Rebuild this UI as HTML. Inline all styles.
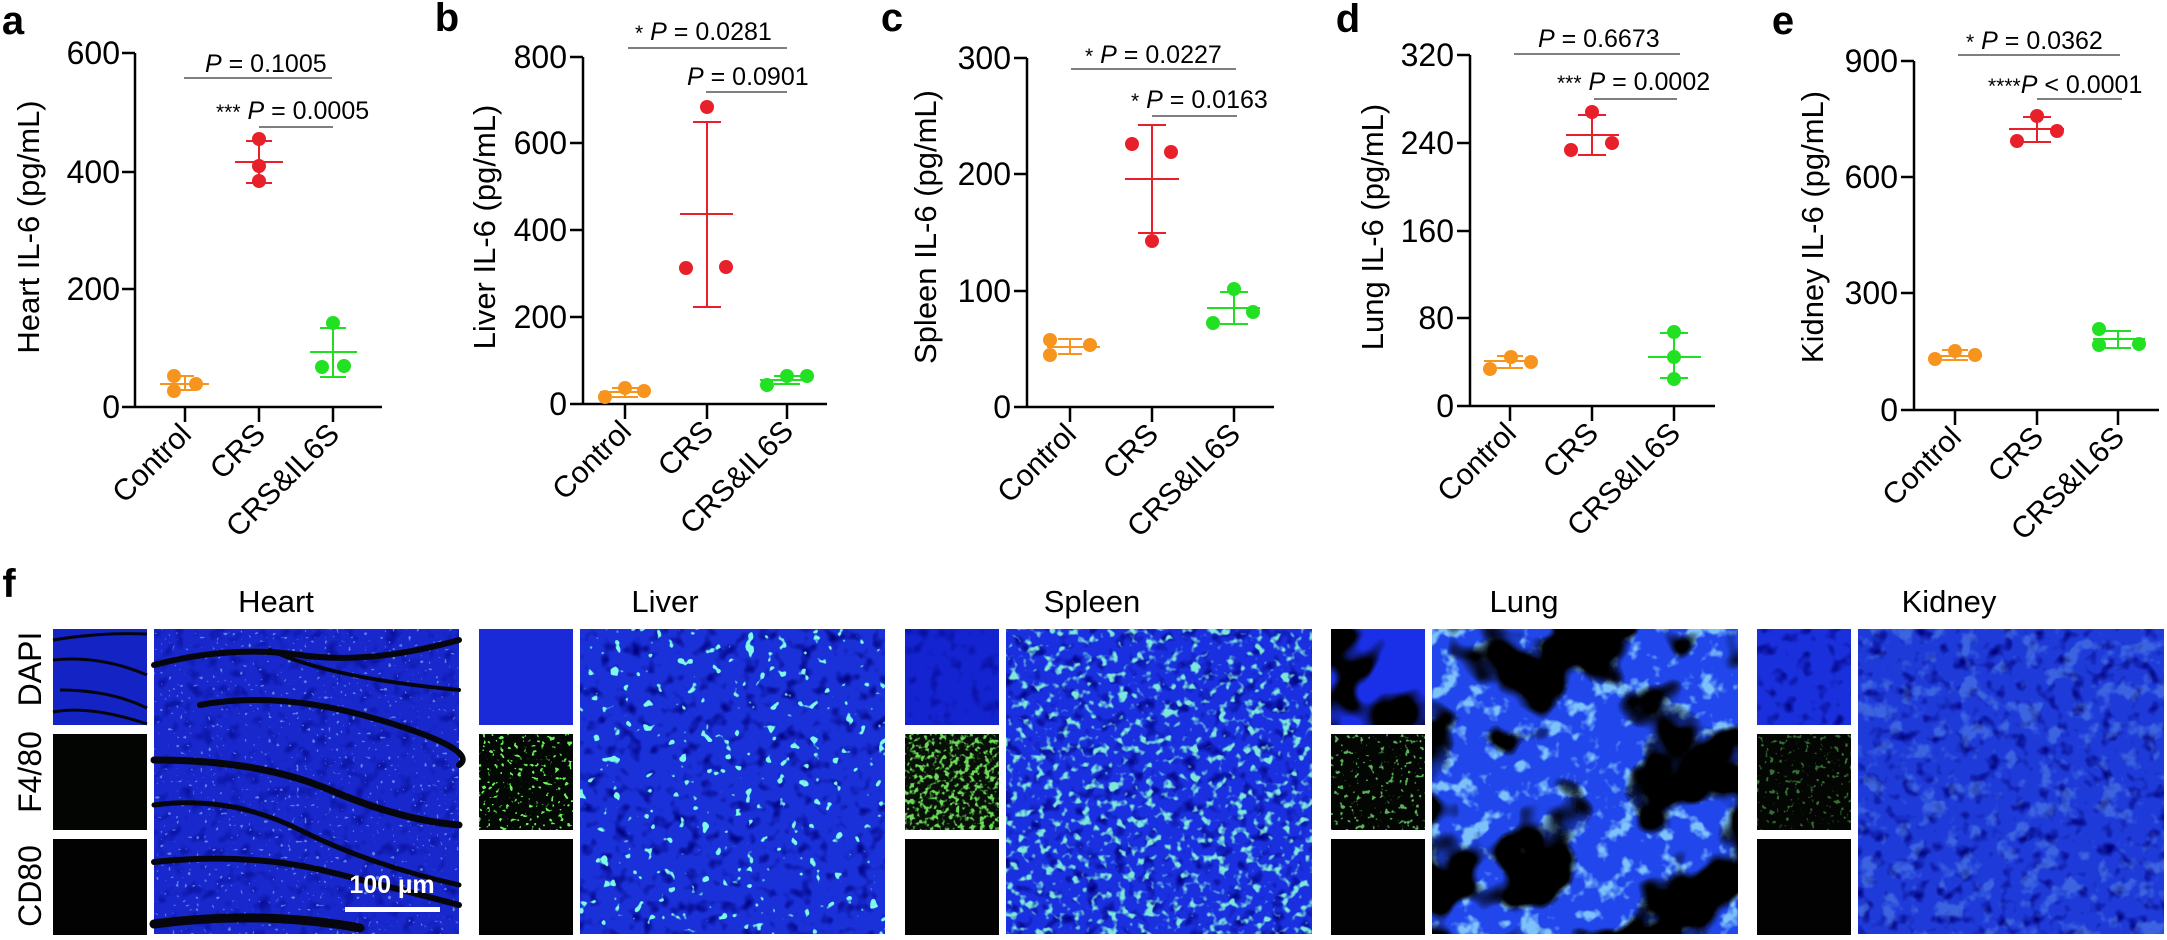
<!DOCTYPE html>
<html><head><meta charset="utf-8"><style>
html,body{margin:0;padding:0;background:#fff;}
svg{display:block;}
text{font-family:"Liberation Sans",Arial,sans-serif;}
</style></head><body>
<svg width="2167" height="940" viewBox="0 0 2167 940" xmlns="http://www.w3.org/2000/svg">
<defs>
<filter id="cyanS" x="0" y="0" width="1" height="1"><feTurbulence type="fractalNoise" baseFrequency="0.09" numOctaves="2" seed="4"/><feColorMatrix type="matrix" values="0 0 0 0 0.2  0 0 0 0 0.95  0 0 0 0 0.8  20 0 0 0 -13.6"/></filter>
<filter id="greenDense" x="0" y="0" width="1" height="1"><feTurbulence type="fractalNoise" baseFrequency="0.11" numOctaves="2" seed="7"/><feColorMatrix type="matrix" values="0 0 0 0 0.2  0 0 0 0 0.8  0 0 0 0 0.7  6 0 0 0 -3.3"/></filter>
<filter id="greenF" x="0" y="0" width="1" height="1"><feTurbulence type="fractalNoise" baseFrequency="0.2" numOctaves="2" seed="9"/><feColorMatrix type="matrix" values="0 0 0 0 0.15  0 0 0 0 0.7  0 0 0 0 0.1  6 0 0 0 -3.0"/></filter>
<filter id="greenSparse" x="0" y="0" width="1" height="1"><feTurbulence type="fractalNoise" baseFrequency="0.22" numOctaves="2" seed="11"/><feColorMatrix type="matrix" values="0 0 0 0 0.15  0 0 0 0 0.9  0 0 0 0 0.1  16 0 0 0 -10.2"/></filter>
<filter id="greenFaint" x="0" y="0" width="1" height="1"><feTurbulence type="fractalNoise" baseFrequency="0.2" numOctaves="2" seed="13"/><feColorMatrix type="matrix" values="0 0 0 0 0.1  0 0 0 0 0.45  0 0 0 0 0.1  10 0 0 0 -6.2"/></filter>
<filter id="blackBlob" x="0" y="0" width="1" height="1"><feTurbulence type="fractalNoise" baseFrequency="0.011" numOctaves="3" seed="21"/><feColorMatrix type="matrix" values="0 0 0 0 0  0 0 0 0 0  0 0 0 0 0  14 0 0 0 -6.9"/></filter>
<filter id="lightBlob" x="0" y="0" width="1" height="1"><feTurbulence type="fractalNoise" baseFrequency="0.05" numOctaves="3" seed="2"/><feColorMatrix type="matrix" values="0 0 0 0 0.3  0 0 0 0 0.75  0 0 0 0 1  6 0 0 0 -3.2"/></filter>
<filter id="mottle" x="0" y="0" width="1" height="1"><feTurbulence type="fractalNoise" baseFrequency="0.07" numOctaves="2" seed="5"/><feColorMatrix type="matrix" values="0 0 0 0 0  0 0 0 0 0  0 0 0 0 0.2  3 0 0 0 -1.6"/></filter>
<filter id="dots" x="0" y="0" width="1" height="1"><feTurbulence type="fractalNoise" baseFrequency="0.25" numOctaves="1" seed="8"/><feColorMatrix type="matrix" values="0 0 0 0 0.4  0 0 0 0 0.7  0 0 0 0 1  16 0 0 0 -10.8"/></filter>
</defs>

<g fill="none" stroke="#000" stroke-width="2.5">
<path d="M135,53 V407 M122,407 H382 M122,53 H135 M122,172 H135 M122,289 H135 M185,407 V422 M259,407 V422 M333,407 V422"/>
<path d="M583,57 V404 M570,404 H827 M570,57 H583 M570,143 H583 M570,230 H583 M570,317 H583 M625,404 V419 M707,404 V419 M787,404 V419"/>
<path d="M1027,58 V407 M1014,407 H1274 M1014,58 H1027 M1014,174 H1027 M1014,291 H1027 M1070,407 V422 M1152,407 V422 M1234,407 V422"/>
<path d="M1470,55 V406 M1457,406 H1715 M1457,55 H1470 M1457,143 H1470 M1457,231 H1470 M1457,318 H1470 M1510,406 V421 M1592,406 V421 M1674,406 V421"/>
<path d="M1914,61 V410 M1901,410 H2159 M1901,61 H1914 M1901,177 H1914 M1901,293 H1914 M1955,410 V425 M2037,410 V425 M2118,410 V425"/>
</g>
<g font-size="32" text-anchor="end" fill="#000">
<text x="120" y="64">600</text><text x="120" y="183">400</text><text x="120" y="300">200</text><text x="120" y="418">0</text>
<text x="567" y="68">800</text><text x="567" y="154">600</text><text x="567" y="241">400</text><text x="567" y="328">200</text><text x="567" y="415">0</text>
<text x="1011" y="69">300</text><text x="1011" y="185">200</text><text x="1011" y="302">100</text><text x="1011" y="418">0</text>
<text x="1454" y="66">320</text><text x="1454" y="154">240</text><text x="1454" y="242">160</text><text x="1454" y="329">80</text><text x="1454" y="417">0</text>
<text x="1898" y="72">900</text><text x="1898" y="188">600</text><text x="1898" y="304">300</text><text x="1898" y="421">0</text>
</g>
<g font-size="31" text-anchor="middle">
<text transform="translate(39,227) rotate(-90)">Heart IL-6 (pg/mL)</text>
<text transform="translate(495,227) rotate(-90)">Liver IL-6 (pg/mL)</text>
<text transform="translate(936,227) rotate(-90)">Spleen IL-6 (pg/mL)</text>
<text transform="translate(1383,227) rotate(-90)">Lung IL-6 (pg/mL)</text>
<text transform="translate(1823,227) rotate(-90)">Kidney IL-6 (pg/mL)</text>
</g>
<g font-size="40" font-weight="bold" text-anchor="middle">
<text x="13" y="34">a</text><text x="447" y="31">b</text><text x="892" y="31">c</text><text x="1348" y="32">d</text><text x="1783" y="34">e</text>
<text x="9" y="597">f</text>
</g>
<g font-size="30" text-anchor="end">
<text transform="translate(193,436) rotate(-45)">Control</text><text transform="translate(267,436) rotate(-45)">CRS</text><text transform="translate(341,436) rotate(-45)">CRS&amp;IL6S</text>
<text transform="translate(633,433) rotate(-45)">Control</text><text transform="translate(715,433) rotate(-45)">CRS</text><text transform="translate(795,433) rotate(-45)">CRS&amp;IL6S</text>
<text transform="translate(1078,436) rotate(-45)">Control</text><text transform="translate(1160,436) rotate(-45)">CRS</text><text transform="translate(1242,436) rotate(-45)">CRS&amp;IL6S</text>
<text transform="translate(1518,435) rotate(-45)">Control</text><text transform="translate(1600,435) rotate(-45)">CRS</text><text transform="translate(1682,435) rotate(-45)">CRS&amp;IL6S</text>
<text transform="translate(1963,439) rotate(-45)">Control</text><text transform="translate(2045,439) rotate(-45)">CRS</text><text transform="translate(2126,439) rotate(-45)">CRS&amp;IL6S</text>
</g>
<g stroke="#555" stroke-width="1.6">
<path d="M184,78 H332 M259,127 H333"/>
<path d="M628,48 H787 M706,92 H787"/>
<path d="M1071,69 H1236 M1152,116 H1237"/>
<path d="M1514,54 H1680 M1594,99 H1677"/>
<path d="M1958,55 H2120 M2037,99 H2122"/>
</g>
<g font-size="25">
<text x="205" y="72"><tspan font-style="italic">P</tspan> = 0.1005</text>
<text x="216" y="119"><tspan font-size="21">***</tspan> <tspan font-style="italic">P</tspan> = 0.0005</text>
<text x="635" y="40"><tspan font-size="21">*</tspan> <tspan font-style="italic">P</tspan> = 0.0281</text>
<text x="687" y="85"><tspan font-style="italic">P</tspan> = 0.0901</text>
<text x="1085" y="63"><tspan font-size="21">*</tspan> <tspan font-style="italic">P</tspan> = 0.0227</text>
<text x="1131" y="108"><tspan font-size="21">*</tspan> <tspan font-style="italic">P</tspan> = 0.0163</text>
<text x="1538" y="47"><tspan font-style="italic">P</tspan> = 0.6673</text>
<text x="1557" y="90"><tspan font-size="21">***</tspan> <tspan font-style="italic">P</tspan> = 0.0002</text>
<text x="1966" y="49"><tspan font-size="21">*</tspan> <tspan font-style="italic">P</tspan> = 0.0362</text>
<text x="1988" y="93"><tspan font-size="21">****</tspan><tspan font-style="italic">P</tspan> &lt; 0.0001</text>
</g>
<g stroke="#f7941d" stroke-width="2" fill="none">
<path d="M160,384 H209 M185,376 V390 M176,376 H194 M176,390 H194"/>
<path d="M600,392 H650 M625,388 V397 M612,388 H638 M612,397 H638"/>
<path d="M1047,347 H1100 M1070,339 V354 M1058,339 H1082 M1058,354 H1082"/>
<path d="M1484,361 H1537 M1510,356 V368 M1497,356 H1523 M1497,368 H1523"/>
<path d="M1930,356 H1982 M1955,350 V360 M1942,350 H1968 M1942,360 H1968"/>
</g>
<g fill="#f7941d">
<circle cx="174" cy="376" r="7"/><circle cx="174" cy="391" r="7"/><circle cx="196" cy="384" r="7"/>
<circle cx="605" cy="397" r="7"/><circle cx="625" cy="388" r="7"/><circle cx="644" cy="391" r="7"/>
<circle cx="1050" cy="340" r="7"/><circle cx="1050" cy="355" r="7"/><circle cx="1090" cy="345" r="7"/>
<circle cx="1490" cy="369" r="7"/><circle cx="1511" cy="357" r="7"/><circle cx="1531" cy="362" r="7"/>
<circle cx="1935" cy="359" r="7"/><circle cx="1955" cy="351" r="7"/><circle cx="1975" cy="355" r="7"/>
</g>
<g stroke="#e8202a" stroke-width="2" fill="none">
<path d="M235,162 H283 M259,141 V183 M246,141 H272 M246,183 H272"/>
<path d="M680,214 H733 M707,122 V307 M693,122 H721 M693,307 H721"/>
<path d="M1125,179 H1179 M1152,125 V233 M1138,125 H1166 M1138,233 H1166"/>
<path d="M1566,135 H1619 M1592,115 V155 M1578,115 H1606 M1578,155 H1606"/>
<path d="M2009,129 H2064 M2037,117 V142 M2023,117 H2051 M2023,142 H2051"/>
</g>
<g fill="#e8202a">
<circle cx="259" cy="139" r="7"/><circle cx="259" cy="166" r="7"/><circle cx="259" cy="181" r="7"/>
<circle cx="707" cy="107" r="7"/><circle cx="686" cy="268" r="7"/><circle cx="726" cy="267" r="7"/>
<circle cx="1132" cy="144" r="7"/><circle cx="1171" cy="152" r="7"/><circle cx="1152" cy="241" r="7"/>
<circle cx="1592" cy="112" r="7"/><circle cx="1571" cy="150" r="7"/><circle cx="1612" cy="143" r="7"/>
<circle cx="2037" cy="116" r="7"/><circle cx="2017" cy="141" r="7"/><circle cx="2057" cy="131" r="7"/>
</g>
<g stroke="#22dd22" stroke-width="2" fill="none">
<path d="M310,352 H357 M333,328 V377 M320,328 H346 M320,377 H346"/>
<path d="M760,380 H812 M787,376 V384 M774,376 H800 M774,384 H800"/>
<path d="M1207,308 H1260 M1234,292 V324 M1220,292 H1248 M1220,324 H1248"/>
<path d="M1648,357 H1701 M1674,333 V378 M1660,333 H1688 M1660,378 H1688"/>
<path d="M2093,339 H2145 M2118,331 V348 M2105,331 H2131 M2105,348 H2131"/>
</g>
<g fill="#22e022">
<circle cx="333" cy="323" r="7"/><circle cx="322" cy="367" r="7"/><circle cx="344" cy="366" r="7"/>
<circle cx="767" cy="385" r="7"/><circle cx="787" cy="376" r="7"/><circle cx="807" cy="376" r="7"/>
<circle cx="1234" cy="289" r="7"/><circle cx="1213" cy="323" r="7"/><circle cx="1253" cy="312" r="7"/>
<circle cx="1674" cy="332" r="7"/><circle cx="1674" cy="357" r="7"/><circle cx="1674" cy="379" r="7"/>
<circle cx="2099" cy="329" r="7"/><circle cx="2099" cy="345" r="7"/><circle cx="2139" cy="344" r="7"/>
</g>

<g font-size="31" text-anchor="middle">
<text x="276" y="612">Heart</text><text x="665" y="612">Liver</text><text x="1092" y="612">Spleen</text><text x="1524" y="612">Lung</text><text x="1949" y="612">Kidney</text>
</g>
<g font-size="32" text-anchor="middle">
<text transform="translate(41,669) rotate(-90)">DAPI</text>
<text transform="translate(41,772) rotate(-90)">F4/80</text>
<text transform="translate(41,886) rotate(-90)">CD80</text>
</g>

<!-- Heart -->
<rect x="53" y="629" width="94" height="96" fill="#1424c4"/>
<g stroke="#050510" fill="none" stroke-width="3">
<path d="M53,640 Q100,632 147,634 M53,660 Q100,655 147,675 M60,690 Q110,690 147,708 M53,712 Q90,705 147,724"/>
</g>
<rect x="53" y="734" width="94" height="96" fill="#030503"/>
<rect x="53" y="839" width="94" height="96" fill="#020202"/>
<rect x="154" y="629" width="305" height="305" fill="#1828cc"/>
<rect x="154" y="629" width="305" height="305" filter="url(#mottle)" opacity="0.6"/>
<rect x="154" y="629" width="305" height="305" filter="url(#dots)" opacity="0.5"/>
<g stroke="#06060f" fill="none" stroke-linecap="round">
<path d="M154,665 Q230,645 300,655 T459,640" stroke-width="6"/>
<path d="M200,705 Q280,690 380,720 T459,765" stroke-width="6"/>
<path d="M154,760 Q260,760 330,790 T459,825" stroke-width="7"/>
<path d="M154,805 Q230,795 300,830 T459,885" stroke-width="5"/>
<path d="M154,862 Q250,852 330,872 T459,905" stroke-width="6"/>
<path d="M154,924 Q260,910 360,928" stroke-width="9"/>
<path d="M270,650 Q330,678 459,690" stroke-width="4"/>
</g>
<rect x="345" y="907" width="95" height="5" fill="#fff"/>
<text x="392" y="893" font-size="25" font-weight="bold" fill="#fff" text-anchor="middle">100 µm</text>

<!-- Liver -->
<rect x="479" y="629" width="94" height="96" fill="#1a2ad8"/>
<rect x="479" y="734" width="94" height="96" fill="#040804"/>
<rect x="479" y="734" width="94" height="96" filter="url(#greenSparse)"/>
<rect x="479" y="839" width="94" height="96" fill="#020202"/>
<rect x="580" y="629" width="305" height="305" fill="#1a30d8"/>
<rect x="580" y="629" width="305" height="305" filter="url(#mottle)"/>
<rect x="580" y="629" width="305" height="305" filter="url(#cyanS)"/>

<!-- Spleen -->
<rect x="905" y="629" width="94" height="96" fill="#1424d0"/>
<rect x="905" y="629" width="94" height="96" filter="url(#mottle)" opacity="0.6"/>
<rect x="905" y="734" width="94" height="96" fill="#061006"/>
<rect x="905" y="734" width="94" height="96" filter="url(#greenF)"/>
<rect x="905" y="839" width="94" height="96" fill="#020202"/>
<rect x="1006" y="629" width="306" height="305" fill="#1a30e0"/>
<rect x="1006" y="629" width="306" height="305" filter="url(#mottle)"/>
<rect x="1006" y="629" width="306" height="305" filter="url(#greenDense)"/>

<!-- Lung -->
<rect x="1331" y="629" width="94" height="96" fill="#1a30e8"/>
<rect x="1331" y="629" width="94" height="96" filter="url(#blackBlob)"/>
<rect x="1331" y="734" width="94" height="96" fill="#030603"/>
<rect x="1331" y="734" width="94" height="96" filter="url(#greenFaint)"/>
<rect x="1331" y="839" width="94" height="96" fill="#020202"/>
<rect x="1432" y="629" width="306" height="305" fill="#2046ec"/>
<rect x="1432" y="629" width="306" height="305" filter="url(#lightBlob)" opacity="0.8"/>
<rect x="1432" y="629" width="306" height="305" filter="url(#blackBlob)"/>

<!-- Kidney -->
<rect x="1757" y="629" width="94" height="96" fill="#1a30dc"/>
<rect x="1757" y="629" width="94" height="96" filter="url(#mottle)"/>
<rect x="1757" y="734" width="94" height="96" fill="#030603"/>
<rect x="1757" y="734" width="94" height="96" filter="url(#greenFaint)" opacity="0.6"/>
<rect x="1757" y="839" width="94" height="96" fill="#020202"/>
<rect x="1858" y="629" width="306" height="305" fill="#1e3ad8"/>
<rect x="1858" y="629" width="306" height="305" filter="url(#mottle)"/>
<rect x="1858" y="629" width="306" height="305" filter="url(#lightBlob)" opacity="0.25"/>
</svg>
</body></html>
